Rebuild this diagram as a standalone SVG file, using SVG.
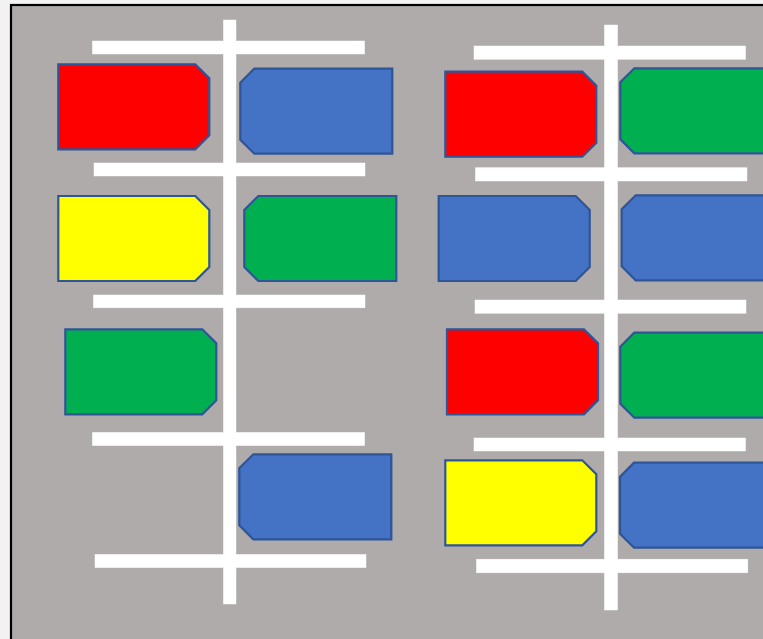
<svg xmlns="http://www.w3.org/2000/svg" width="763" height="639" viewBox="0 0 763 639">
<style>
.bar{fill:#ffffff;stroke:#d9d9d9;stroke-width:0.8}
.barfill{fill:#ffffff;stroke:none}
.car{stroke:#2f5597;stroke-width:2.2;stroke-linejoin:miter}
.red{fill:#ff0000}.blue{fill:#4472c4}.yellow{fill:#ffff00}.green{fill:#00b050}
</style>
<defs>
<path id="carR" d="M0,0 H137 L151,14 V71 L137,85 H0 Z"/>
<path id="carL" d="M14,0 H152 V85 H14 L0,71 V14 Z"/>
<g id="bars">
<rect x="223.5" y="20" width="12.5" height="584"/>
<rect x="92.5" y="41" width="272" height="13"/>
<rect x="94" y="163" width="271" height="13"/>
<rect x="93.5" y="295" width="271.5" height="12.7"/>
<rect x="92.5" y="432.5" width="272" height="13"/>
<rect x="95" y="554.5" width="271" height="13"/>
<rect x="604.5" y="25" width="13" height="585"/>
<rect x="474" y="46" width="271.5" height="13.3"/>
<rect x="475.5" y="167.7" width="271.5" height="13.3"/>
<rect x="475" y="300" width="271" height="13.3"/>
<rect x="474" y="438" width="271.5" height="13"/>
<rect x="476.5" y="559.3" width="271.2" height="13.4"/>
</g>
</defs>
<rect x="0" y="0" width="763" height="639" fill="#f2f2f2"/>
<rect x="11" y="5" width="770" height="650" fill="#afabab" stroke="#000000" stroke-width="2.2"/>
<g id="lines">
<use href="#bars" class="bar"/>
<use href="#bars" class="barfill"/>
</g>
<g id="car1"><use href="#carR" class="car red" x="58.3" y="64.3"/></g>
<g id="car2"><use href="#carL" class="car blue" x="240.3" y="68.7"/></g>
<g id="car3"><use href="#carR" class="car yellow" x="58.3" y="196"/></g>
<g id="car4"><use href="#carL" class="car green" x="244.3" y="196"/></g>
<g id="car5"><use href="#carR" class="car green" x="65.3" y="329.3"/></g>
<g id="car6"><use href="#carL" class="car blue" x="239.3" y="454.3"/></g>
<g id="car7"><use href="#carR" class="car red" x="445.3" y="71.7"/></g>
<g id="car8"><use href="#carL" class="car green" x="620.3" y="68.3"/></g>
<g id="car9"><use href="#carR" class="car blue" x="438.7" y="196"/></g>
<g id="car10"><use href="#carL" class="car blue" x="621.7" y="195.3"/></g>
<g id="car11"><use href="#carR" class="car red" x="447" y="329.3"/></g>
<g id="car12"><use href="#carL" class="car green" x="620.3" y="332.7"/></g>
<g id="car13"><use href="#carR" class="car yellow" x="445.3" y="460.3"/></g>
<g id="car14"><use href="#carL" class="car blue" x="620" y="462.7"/></g>
</svg>
